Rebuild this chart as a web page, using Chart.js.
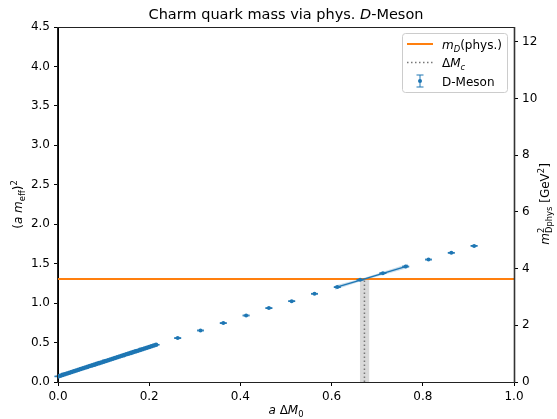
<!DOCTYPE html>
<html>
<head>
<meta charset="utf-8">
<script src="https://cdn.jsdelivr.net/npm/chart.js@4/dist/chart.umd.min.js"></script>
<style>
  html, body { margin: 0; padding: 0; background: #fff; }
  #wrap { width: 557px; height: 419px; position: relative; }
</style>
</head>
<body>
<div id="wrap"><canvas id="chart"></canvas></div>
<script>
// fine scan in a*dM0 (close to the chiral end)
const denseX = [0.000, 0.005, 0.010, 0.015, 0.020, 0.025, 0.030, 0.035, 0.040, 0.045,
                0.050, 0.055, 0.060, 0.065, 0.070, 0.075, 0.080, 0.085, 0.090, 0.095,
                0.100, 0.105, 0.110, 0.115, 0.120, 0.125, 0.130, 0.135, 0.140, 0.145,
                0.150, 0.155, 0.160, 0.165, 0.170, 0.175, 0.180, 0.185, 0.190, 0.195,
                0.200, 0.205, 0.210, 0.215];
const denseY = [0.071, 0.080, 0.090, 0.099, 0.108, 0.118, 0.127, 0.136, 0.146, 0.155,
                0.164, 0.174, 0.183, 0.192, 0.202, 0.211, 0.220, 0.230, 0.239, 0.248,
                0.258, 0.267, 0.276, 0.285, 0.295, 0.304, 0.313, 0.323, 0.332, 0.341,
                0.351, 0.360, 0.369, 0.379, 0.388, 0.397, 0.407, 0.416, 0.425, 0.435,
                0.444, 0.453, 0.463, 0.472];
const denseErr = 0.004;

// coarse scan
const coarseX = [0.2625, 0.3125, 0.3625, 0.4125, 0.4625, 0.5125, 0.5625,
                 0.6125, 0.6625, 0.7125, 0.7625, 0.8125, 0.8625, 0.9125];
const coarseY = [0.557, 0.653, 0.747, 0.843, 0.937, 1.025, 1.118,
                 1.203, 1.295, 1.380, 1.463, 1.552, 1.637, 1.725];
const coarseErr = [0.005, 0.005, 0.005, 0.005, 0.005, 0.005, 0.005,
                   0.005, 0.005, 0.005, 0.005, 0.005, 0.005, 0.005];

// linear fit through the points around the crossing, with its error band
const fitX = [0.6075, 0.6725, 0.7675];
const fitY = [1.196, 1.307, 1.472];
const fitHi = [1.224, 1.321, 1.500];
const fitLo = [1.168, 1.293, 1.444];

// physical D mass squared in lattice units, and the resulting dM_c
const mPhys = 1.307;
const deltaMc = 0.672;
const deltaMcErr = [0.662, 0.683];

// axis ranges
const xTicks = { min: 0, max: 1, step: 0.2 };
const yTicks = { min: 0, max: 4.5, step: 0.5 };
const physMax = 12.52;   // GeV^2 at the top of the lattice axis
const physStep = 2;

const BLUE = '#1f77b4';
const ORANGE = '#ff7f0e';
const FONT = '"DejaVu Sans"';

const pts = (xs, ys) => xs.map((x, i) => ({ x: x, y: ys[i] }));

// draws a run of text pieces: {t, it, sub, sup, stack:[sup, sub]}
function richWidth(ctx, parts, size) {
    let w = 0;
    for (const p of parts) {
        if (p.stack) {
            ctx.font = Math.round(size * 0.7) + 'px ' + FONT;
            w += Math.max(ctx.measureText(p.stack[0]).width, ctx.measureText(p.stack[1]).width);
            continue;
        }
        const s = (p.sub || p.sup) ? size * 0.7 : size;
        ctx.font = (p.it ? 'italic ' : '') + s + 'px ' + FONT;
        w += ctx.measureText(p.t).width;
    }
    return w;
}

function drawRich(ctx, parts, x, y, size, align) {
    let cx = x;
    if (align === 'center') cx = x - richWidth(ctx, parts, size) / 2;
    ctx.textBaseline = 'alphabetic';
    ctx.textAlign = 'left';
    for (const p of parts) {
        if (p.stack) {
            const s = size * 0.7;
            ctx.font = s + 'px ' + FONT;
            ctx.fillText(p.stack[0], cx, y - size * 0.42);
            ctx.fillText(p.stack[1], cx, y + size * 0.28);
            cx += Math.max(ctx.measureText(p.stack[0]).width, ctx.measureText(p.stack[1]).width);
            continue;
        }
        const s = (p.sub || p.sup) ? size * 0.7 : size;
        const dy = p.sub ? size * 0.25 : (p.sup ? -size * 0.42 : 0);
        ctx.font = (p.it ? 'italic ' : '') + s + 'px ' + FONT;
        ctx.fillText(p.t, cx, y + dy);
        cx += ctx.measureText(p.t).width;
    }
}

const decor = {
    id: 'decor',
    afterDatasetsDraw(chart) {
        const ctx = chart.ctx;
        const ys = chart.scales.y;
        ctx.save();
        chart.data.datasets.forEach((ds, i) => {
            if (!ds.errors) return;
            const meta = chart.getDatasetMeta(i);
            ctx.strokeStyle = ds.backgroundColor;
            ctx.lineWidth = 1;
            meta.data.forEach((el, j) => {
                const e = Array.isArray(ds.errors) ? ds.errors[j] : ds.errors;
                const v = ds.data[j].y;
                const top = ys.getPixelForValue(v + e);
                const bot = ys.getPixelForValue(v - e);
                ctx.beginPath();
                ctx.moveTo(el.x, top); ctx.lineTo(el.x, bot);
                ctx.moveTo(el.x - 3.5, top); ctx.lineTo(el.x + 3.5, top);
                ctx.moveTo(el.x - 3.5, bot); ctx.lineTo(el.x + 3.5, bot);
                ctx.stroke();
            });
        });
        ctx.restore();
    },
    afterDraw(chart) {
        const ctx = chart.ctx;
        const a = chart.chartArea;
        ctx.save();

        // frame
        ctx.strokeStyle = '#222';
        ctx.lineWidth = 1;
        ctx.strokeRect(Math.round(a.left) - 0.5, Math.round(a.top) + 0.5,
                       Math.round(a.right - a.left) + 1, Math.round(a.bottom - a.top));
        // the twin axis spine sits on top of the right edge
        ctx.strokeStyle = '#333';
        ctx.lineWidth = 1.6;
        ctx.beginPath();
        ctx.moveTo(Math.round(a.right) + 0.5, a.top);
        ctx.lineTo(Math.round(a.right) + 0.5, a.bottom + 1);
        ctx.stroke();

        ctx.fillStyle = '#000';
        const midX = (a.left + a.right) / 2;
        const midY = (a.top + a.bottom) / 2;

        // title
        drawRich(ctx, [{ t: 'Charm quark mass via phys. ' }, { t: 'D', it: true }, { t: '-Meson' }],
                 midX, 19, 14.5, 'center');

        // x label
        drawRich(ctx, [{ t: 'a', it: true }, { t: ' \u0394' }, { t: 'M', it: true }, { t: '0', sub: true }],
                 midX, 414, 12, 'center');

        // left label
        ctx.save();
        ctx.translate(22, midY);
        ctx.rotate(-Math.PI / 2);
        drawRich(ctx, [{ t: '(' }, { t: 'a', it: true }, { t: ' ' }, { t: 'm', it: true },
                       { t: 'eff', sub: true }, { t: ')' }, { t: '2', sup: true }], 0, 0, 12, 'center');
        ctx.restore();

        // right label
        ctx.save();
        ctx.translate(549, midY);
        ctx.rotate(-Math.PI / 2);
        drawRich(ctx, [{ t: 'm', it: true }, { stack: ['2', 'Dphys'] }, { t: ' [GeV' },
                       { t: '2', sup: true }, { t: ']' }], 0, 0, 12, 'center');
        ctx.restore();

        // legend
        const lx = 402.5, ly = 33.5, lw = 105, lh = 59;
        ctx.beginPath();
        ctx.roundRect(lx, ly, lw, lh, 3);
        ctx.fillStyle = 'rgba(255,255,255,0.8)';
        ctx.fill();
        ctx.strokeStyle = '#cccccc';
        ctx.lineWidth = 1;
        ctx.stroke();

        const rows = [44, 62.5, 81];
        ctx.lineWidth = 2;
        ctx.strokeStyle = ORANGE;
        ctx.beginPath();
        ctx.moveTo(407, rows[0]); ctx.lineTo(433, rows[0]);
        ctx.stroke();

        ctx.lineWidth = 1.5;
        ctx.strokeStyle = '#777';
        ctx.setLineDash([1.5, 2.5]);
        ctx.beginPath();
        ctx.moveTo(407, rows[1]); ctx.lineTo(433, rows[1]);
        ctx.stroke();
        ctx.setLineDash([]);

        ctx.lineWidth = 1;
        ctx.strokeStyle = BLUE;
        ctx.beginPath();
        ctx.moveTo(420, rows[2] - 6); ctx.lineTo(420, rows[2] + 6);
        ctx.moveTo(416.5, rows[2] - 6); ctx.lineTo(423.5, rows[2] - 6);
        ctx.moveTo(416.5, rows[2] + 6); ctx.lineTo(423.5, rows[2] + 6);
        ctx.stroke();
        ctx.fillStyle = BLUE;
        ctx.beginPath();
        ctx.arc(420, rows[2], 2, 0, Math.PI * 2);
        ctx.fill();

        ctx.fillStyle = '#000';
        drawRich(ctx, [{ t: 'm', it: true }, { t: 'D', it: true, sub: true }, { t: '(phys.)' }], 442, rows[0] + 4.5, 12);
        drawRich(ctx, [{ t: '\u0394' }, { t: 'M', it: true }, { t: 'c', it: true, sub: true }], 442, rows[1] + 4.5, 12);
        drawRich(ctx, [{ t: 'D-Meson' }], 442, rows[2] + 4.5, 12);

        ctx.restore();
    }
};

const tickFont = { family: FONT, size: 12 };
const gridOpts = { drawOnChartArea: false, drawTicks: true, tickLength: 4, color: '#000' };

new Chart(document.getElementById('chart'), {
    type: 'scatter',
    data: {
        datasets: [
            {
                data: pts(denseX, denseY), errors: denseErr, order: 1,
                backgroundColor: BLUE, borderWidth: 0, pointRadius: 2.3
            },
            {
                data: pts(coarseX, coarseY), errors: coarseErr, order: 1,
                backgroundColor: BLUE, borderWidth: 0, pointRadius: 2
            },
            {
                type: 'line', data: pts(fitX, fitY), order: 2,
                borderColor: BLUE, borderWidth: 1.5, pointRadius: 0, fill: false
            },
            {
                type: 'line', data: pts(fitX, fitHi), order: 3,
                borderWidth: 0, pointRadius: 0, fill: false
            },
            {
                type: 'line', data: pts(fitX, fitLo), order: 3,
                borderWidth: 0, pointRadius: 0, fill: '-1',
                backgroundColor: 'rgba(31,119,180,0.25)'
            },
            {
                type: 'line', data: [{ x: xTicks.min, y: mPhys }, { x: xTicks.max, y: mPhys }], order: 4,
                borderColor: ORANGE, borderWidth: 2, pointRadius: 0, fill: false
            },
            {
                type: 'line', data: [{ x: deltaMc, y: 0 }, { x: deltaMc, y: mPhys }], order: 5,
                borderColor: '#777', borderWidth: 1.5, borderDash: [1.5, 2.5], pointRadius: 0, fill: false
            },
            {
                type: 'line', data: [{ x: deltaMcErr[0], y: mPhys }, { x: deltaMcErr[1], y: mPhys }], order: 6,
                borderWidth: 0, pointRadius: 0, fill: 'origin',
                backgroundColor: 'rgba(128,128,128,0.3)'
            }
        ]
    },
    options: {
        responsive: true,
        maintainAspectRatio: false,
        devicePixelRatio: 1,
        animation: false,
        layout: { padding: { top: 27, left: 0, right: 0, bottom: 0 } },
        plugins: { legend: { display: false }, title: { display: false }, tooltip: { enabled: false } },
        scales: {
            x: {
                type: 'linear', min: xTicks.min, max: xTicks.max,
                ticks: { stepSize: xTicks.step, font: tickFont, color: '#000', padding: 4,
                         maxRotation: 0, callback: v => v.toFixed(1) },
                grid: gridOpts, border: { color: '#000' },
                afterFit: s => { s.height = 37; }
            },
            y: {
                position: 'left', min: yTicks.min, max: yTicks.max,
                ticks: { stepSize: yTicks.step, font: tickFont, color: '#000', padding: 4,
                         callback: v => v.toFixed(1) },
                grid: gridOpts, border: { color: '#000' },
                afterFit: s => { s.width = 58; }
            },
            y2: {
                position: 'right', min: 0, max: physMax,
                ticks: { stepSize: physStep, includeBounds: false, font: tickFont, color: '#000',
                         padding: 4, callback: v => String(v) },
                grid: gridOpts, border: { color: '#222' },
                afterFit: s => { s.width = 43; }
            }
        }
    },
    plugins: [decor]
});
</script>
</body>
</html>
